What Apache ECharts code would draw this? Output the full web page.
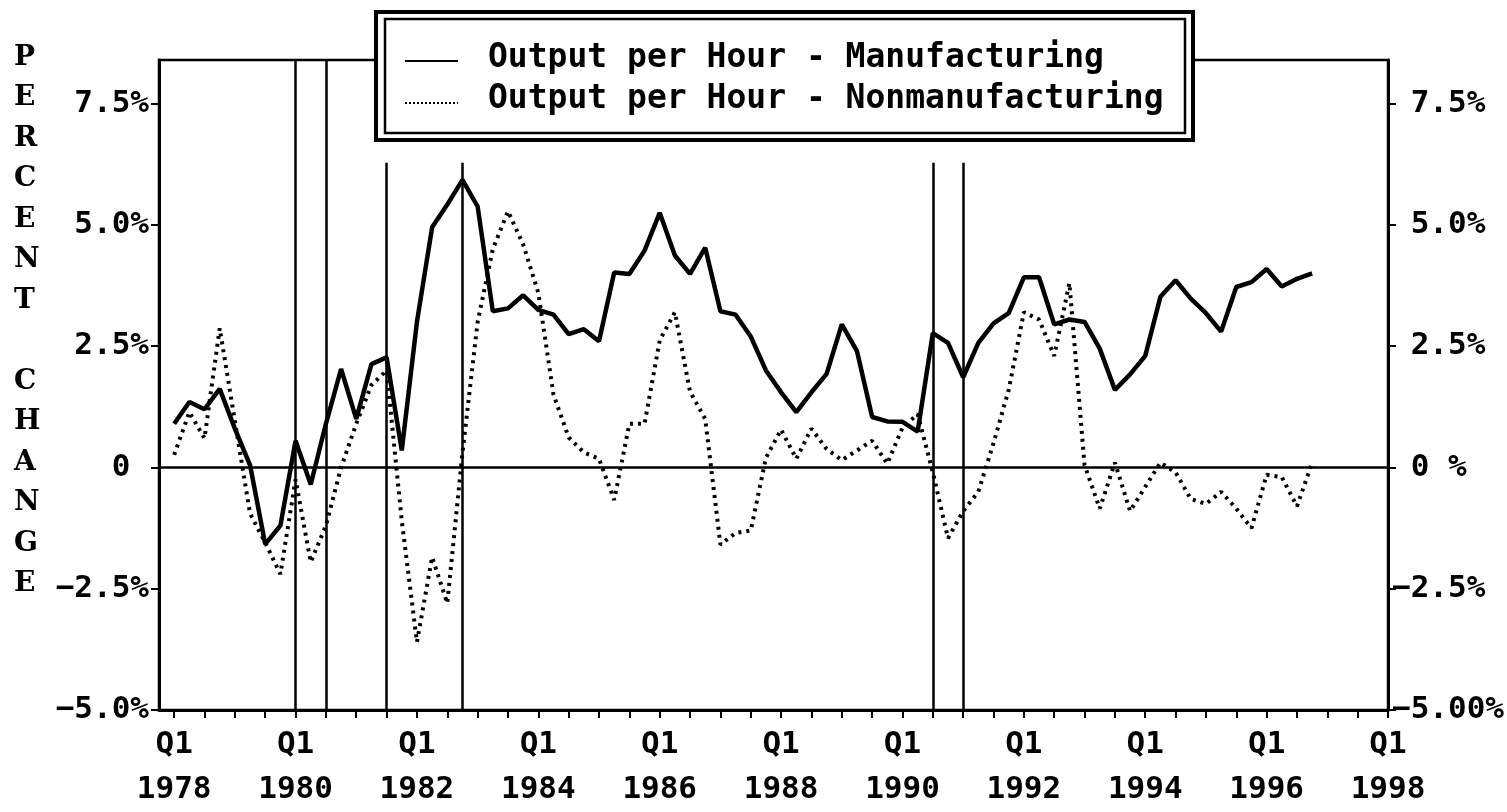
<!DOCTYPE html>
<html>
<head>
<meta charset="utf-8">
<script src="https://cdn.jsdelivr.net/npm/echarts@6.0.0/dist/echarts.min.js"></script>
<style>
  html, body { margin: 0; background: #fff; }
  #chart { width: 1507px; height: 812px; }
</style>
</head>
<body>
<div id="chart"></div>
<script>
// quarters shown on the axis: 1977Q4 .. 1998Q1
const quarters = ['1977Q4']
for (let y = 1978; y <= 1997; y++) {
  for (let q = 1; q <= 4; q++) quarters.push(y + 'Q' + q)
}
quarters.push('1998Q1')

// yearly % change, 1978Q1 .. 1996Q4
const manufacturing = [
  0.9, 1.35, 1.2, 1.62, 0.8, 0.05, -1.58, -1.2,
  0.55, -0.35, 0.9, 2.03, 1.0, 2.13, 2.27, 0.35,
  3.0, 4.95, 5.42, 5.93, 5.38, 3.22, 3.28, 3.55,
  3.25, 3.15, 2.75, 2.85, 2.6, 4.02, 3.99, 4.47,
  5.25, 4.37, 3.99, 4.53, 3.22, 3.15, 2.7, 2.0,
  1.55, 1.14, 1.55, 1.93, 2.95, 2.4, 1.04, 0.95,
  0.94, 0.74, 2.77, 2.57, 1.86, 2.57, 2.97, 3.18,
  3.92, 3.92, 2.95, 3.05, 3.0, 2.45, 1.6, 1.92,
  2.3, 3.52, 3.86, 3.48, 3.18, 2.8, 3.72, 3.82,
  4.09, 3.73, 3.89, 4.0
]
const nonmanufacturing = [
  0.26, 1.14, 0.6, 2.87, 0.96, -0.95, -1.55, -2.2,
  -0.25, -1.95, -1.2, 0.0, 0.9, 1.7, 2.0, -1.1,
  -3.6, -1.85, -2.8, 0.3, 3.0, 4.5, 5.28, 4.6,
  3.6, 1.5, 0.62, 0.31, 0.18, -0.67, 0.9, 0.9,
  2.62, 3.2, 1.56, 1.0, -1.59, -1.35, -1.3, 0.2,
  0.78, 0.18, 0.8, 0.38, 0.15, 0.35, 0.55, 0.08,
  0.82, 1.1, -0.1, -1.46, -0.9, -0.5, 0.5, 1.6,
  3.2, 3.05, 2.3, 3.8, 0.05, -0.85, 0.1, -0.9,
  -0.4, 0.1, -0.1, -0.65, -0.75, -0.5, -0.85, -1.25,
  -0.15, -0.2, -0.8, 0.1
]

// recession markers (full height ones reach the frame top, the rest stop under the legend)
const recessionTall = ['1980Q1', '1980Q3']
const recessionShort = ['1981Q3', '1982Q4', '1990Q3', '1991Q1']

const yTicks = [-5, -2.5, 0, 2.5, 5, 7.5]
const leftLabels = ['\u22125.0%', '\u22122.5%', '0 ', '2.5%', '5.0%', '7.5%']
const rightLabels = ['\u22125.00%', '\u22122.5%', ' 0 %', ' 2.5%', ' 5.0%', ' 7.5%']

const Y_MIN = -5
const Y_MAX = 8.4
const SHORT_TOP = 6.28

const pad = vals => [null].concat(vals, [null, null, null, null, null])

const font = 'DejaVu Sans Mono'

const recessionData = []
recessionTall.forEach(q => recessionData.push([{ coord: [q, Y_MIN] }, { coord: [q, Y_MAX] }]))
recessionShort.forEach(q => recessionData.push([{ coord: [q, Y_MIN] }, { coord: [q, SHORT_TOP] }]))

const chart = echarts.init(document.getElementById('chart'), null, { renderer: 'canvas' })

const options = {
  animation: false,
  backgroundColor: '#fff',
  grid: {
    left: 159, right: 117, top: 60, bottom: 94,
    show: true, borderColor: '#000', borderWidth: 2.5, backgroundColor: 'transparent'
  },
  xAxis: {
    type: 'category',
    data: quarters,
    boundaryGap: false,
    axisLine: { onZero: false, lineStyle: { color: '#000', width: 3 } },
    axisTick: {
      show: true, length: 8, inside: false,
      interval: idx => idx % 2 === 1,
      lineStyle: { color: '#000', width: 2 }
    },
    axisLabel: {
      interval: idx => (idx - 1) % 8 === 0,
      formatter: v => 'Q1\n' + v.slice(0, 4),
      color: '#000', fontFamily: font, fontWeight: 'bold', fontSize: 31,
      lineHeight: 45, margin: 12
    },
    splitLine: { show: false }
  },
  yAxis: [
    {
      type: 'value', position: 'left', min: Y_MIN, max: Y_MAX, interval: 2.5,
      axisLine: { show: true, lineStyle: { color: '#000', width: 3 } },
      axisTick: { show: true, length: 8, customValues: yTicks, lineStyle: { color: '#000', width: 2 } },
      axisLabel: {
        customValues: yTicks,
        formatter: v => { const i = yTicks.indexOf(v); return i < 0 ? '' : leftLabels[i] },
        color: '#000', fontFamily: font, fontWeight: 'bold', fontSize: 31, margin: 10
      },
      splitLine: { show: false }
    },
    {
      type: 'value', position: 'right', min: Y_MIN, max: Y_MAX, interval: 2.5,
      axisLine: { show: true, lineStyle: { color: '#000', width: 3 } },
      axisTick: { show: true, length: 8, customValues: yTicks, lineStyle: { color: '#000', width: 2 } },
      axisLabel: {
        customValues: yTicks,
        formatter: v => { const i = yTicks.indexOf(v); return i < 0 ? '' : rightLabels[i] },
        color: '#000', fontFamily: font, fontWeight: 'bold', fontSize: 31, margin: 4
      },
      splitLine: { show: false }
    }
  ],
  series: [
    {
      name: 'Output per Hour - Manufacturing',
      type: 'line',
      data: pad(manufacturing),
      showSymbol: false,
      lineStyle: { color: '#000', width: 4.5 },
      z: 4,
      markLine: {
        silent: true,
        symbol: 'none',
        label: { show: false },
        lineStyle: { color: '#000', width: 2.5, type: 'solid' },
        data: [{ yAxis: 0 }].concat(recessionData)
      }
    },
    {
      name: 'Output per Hour - Nonmanufacturing',
      type: 'line',
      data: pad(nonmanufacturing),
      showSymbol: false,
      lineStyle: { color: '#000', width: 4, type: [3, 5], cap: 'butt' },
      z: 3
    }
  ],
  graphic: [
    // y axis title, stacked letters
    {
      type: 'text', left: 14, top: 37,
      style: {
        text: 'P\nE\nR\nC\nE\nN\nT\n\nC\nH\nA\nN\nG\nE',
        fill: '#000', font: 'bold 28px "DejaVu Serif"', lineHeight: 40.5, align: 'left'
      }
    },
    // legend box with double border
    {
      type: 'rect', z: 100,
      shape: { x: 376, y: 12, width: 817, height: 128 },
      style: { fill: '#fff', stroke: '#000', lineWidth: 4 }
    },
    {
      type: 'rect', z: 101,
      shape: { x: 385, y: 19, width: 800, height: 114 },
      style: { fill: 'none', stroke: '#000', lineWidth: 2.5 }
    },
    {
      type: 'line', z: 101,
      shape: { x1: 405, y1: 61, x2: 458, y2: 61 },
      style: { stroke: '#000', lineWidth: 2 }
    },
    {
      type: 'line', z: 101,
      shape: { x1: 405, y1: 103, x2: 458, y2: 103 },
      style: { stroke: '#000', lineWidth: 2, lineDash: [2, 2] }
    },
    {
      type: 'text', z: 101, left: 488, top: 42,
      style: { text: 'Output per Hour - Manufacturing', fill: '#000', font: 'bold 33px "DejaVu Sans Mono"' }
    },
    {
      type: 'text', z: 101, left: 488, top: 83,
      style: { text: 'Output per Hour - Nonmanufacturing', fill: '#000', font: 'bold 33px "DejaVu Sans Mono"' }
    }
  ]
}

chart.setOption(options)
</script>
</body>
</html>
